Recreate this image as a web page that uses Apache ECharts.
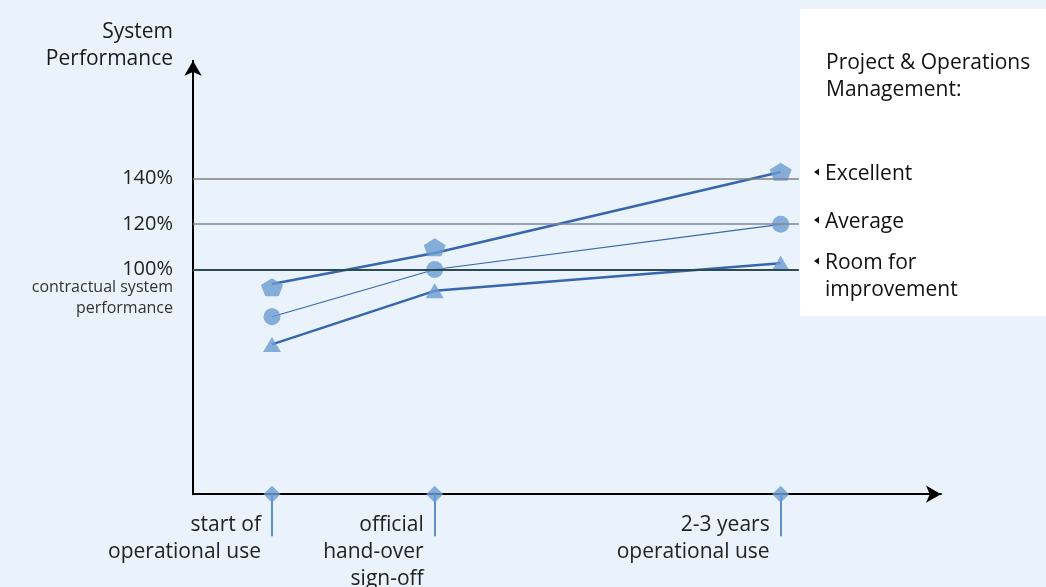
<!DOCTYPE html>
<html>
<head>
<meta charset="utf-8">
<title>System Performance</title>
<script src="https://cdn.jsdelivr.net/npm/echarts@6/dist/echarts.min.js"></script>
<style>
  html, body { margin: 0; padding: 0; background: #EAF2FB; }
  #chart { width: 1046px; height: 587px; }
</style>
</head>
<body>
<div id="chart"></div>
<script>
// stages on the time axis
const stages = ['start of\noperational use', 'official\nhand-over\nsign-off', '2-3 years\noperational use']
const stagePos = [1, 3.06, 7.44]

// reference levels (%)
const refLevels = [100, 120, 140]
const refColors = ['#2C4A50', '#7B8899', '#808080']
const refWidths = [2, 1.5, 1.5]
const refEnd = 7.67
// note under the 100% level
const noteLevel = 87.3
const noteText = 'contractual system\nperformance'

// series values (%)
const excellentMarks = [92.2, 109.8, 143.1]
const excellentLine = [93.6, 107.3, 143]
const averageVals = [79.2, 100, 119.9]
const roomVals = [67, 90.6, 102.8]

const FONT = 'Open Sans'
const markColor = '#6B9BD1'
const lineColor = '#3566AE'
const pentagon = 'path://M50,0 L97.6,34.5 L79.4,90.5 L20.6,90.5 L2.4,34.5 Z'

const chart = echarts.init(document.getElementById('chart'))

const pairs = (vals) => stagePos.map((x, i) => [x, vals[i]])

const option = {
  backgroundColor: '#EAF2FB',
  animation: false,
  textStyle: { fontFamily: FONT },
  grid: { left: 193, right: 105, top: 60.7, bottom: 92.8, outerBoundsMode: 'none', containLabel: false },
  xAxis: {
    type: 'value',
    min: 0,
    max: 9.47,
    axisLine: {
      lineStyle: { color: '#000', width: 2 },
      symbol: ['none', 'arrow'],
      symbolSize: [13, 15]
    },
    axisTick: {
      show: true,
      customValues: stagePos,
      length: 42,
      lineStyle: { color: '#5E8FCC', width: 2 }
    },
    axisLabel: {
      customValues: stagePos,
      formatter: (v) => stages[stagePos.indexOf(v)] || '',
      align: 'right',
      verticalAlign: 'top',
      padding: [0, 11, 0, 0],
      margin: 17,
      lineHeight: 27,
      fontSize: 21,
      color: '#222',
      fontFamily: FONT
    },
    splitLine: { show: false }
  },
  yAxis: [
    {
      type: 'value',
      min: 1,
      max: 192,
      axisLine: {
        show: true,
        lineStyle: { color: '#000', width: 2 },
        symbol: ['none', 'arrow'],
        symbolSize: [13, 15]
      },
      axisTick: { show: false },
      splitLine: { show: false },
      axisLabel: {
        customValues: refLevels,
        hideOverlap: false,
        showMinLabel: true,
        showMaxLabel: true,
        margin: 20,
        formatter: (v) => v + '%',
        fontSize: 20,
        color: '#222',
        fontFamily: FONT
      }
    },
    {
      // second axis on the same scale, only for the note text
      type: 'value',
      position: 'left',
      min: 1,
      max: 192,
      axisLine: { show: false },
      axisTick: { show: false },
      splitLine: { show: false },
      axisLabel: {
        customValues: [noteLevel],
        margin: 20,
        formatter: () => noteText,
        fontSize: 16,
        lineHeight: 21,
        color: '#333',
        fontFamily: FONT
      }
    }
  ],
  series: [
    {
      // horizontal reference lines
      name: 'refs',
      type: 'line',
      data: [],
      z: 1,
      markLine: {
        silent: true,
        symbol: 'none',
        label: { show: false },
        data: refLevels.map((lv, i) => [
          { coord: [0, lv], lineStyle: { color: refColors[i], width: refWidths[i], type: 'solid' } },
          { coord: [refEnd, lv] }
        ])
      }
    },
    {
      name: 'Excellent line',
      type: 'line',
      data: pairs(excellentLine),
      showSymbol: false,
      lineStyle: { color: lineColor, width: 2.5 },
      z: 3
    },
    {
      name: 'Average',
      type: 'line',
      data: pairs(averageVals),
      showSymbol: false,
      lineStyle: { color: lineColor, width: 1.2 },
      z: 3
    },
    {
      name: 'Room for improvement',
      type: 'line',
      data: pairs(roomVals),
      showSymbol: false,
      lineStyle: { color: lineColor, width: 2.5 },
      z: 3
    },
    {
      name: 'Excellent marks',
      type: 'scatter',
      data: pairs(excellentMarks),
      symbol: pentagon,
      symbolSize: [22, 18],
      itemStyle: { color: markColor },
      z: 4
    },
    {
      name: 'Average marks',
      type: 'scatter',
      data: pairs(averageVals),
      symbol: 'circle',
      symbolSize: 17,
      itemStyle: { color: markColor },
      z: 4
    },
    {
      name: 'Room marks',
      type: 'scatter',
      data: pairs(roomVals),
      symbol: 'triangle',
      symbolSize: [18, 15],
      itemStyle: { color: markColor },
      z: 4
    },
    {
      // diamonds on the time axis
      name: 'stages',
      type: 'scatter',
      data: stagePos.map((x) => [x, 1]),
      symbol: 'diamond',
      symbolSize: [17, 17],
      clip: false,
      itemStyle: { color: markColor },
      z: 5
    }
  ],
  graphic: [
    {
      type: 'text',
      x: 173,
      y: 19,
      style: {
        text: 'System\nPerformance',
        align: 'right',
        fill: '#1a1a1a',
        font: '500 21px ' + FONT,
        lineHeight: 27
      }
    },
    {
      type: 'rect',
      shape: { x: 800, y: 9, width: 246, height: 307 },
      style: { fill: '#fff' },
      z: 0
    },
    {
      type: 'text',
      x: 826,
      y: 50,
      style: { text: 'Project & Operations\nManagement:', fill: '#111', font: '500 21px ' + FONT, lineHeight: 27 }
    },
    {
      type: 'text',
      x: 825,
      y: 160.5,
      style: { text: 'Excellent', fill: '#111', font: '21px ' + FONT, lineHeight: 27 }
    },
    {
      type: 'text',
      x: 825,
      y: 208.5,
      style: { text: 'Average', fill: '#111', font: '21px ' + FONT, lineHeight: 27 }
    },
    {
      type: 'text',
      x: 825,
      y: 249.5,
      style: { text: 'Room for\nimprovement', fill: '#111', font: '21px ' + FONT, lineHeight: 27 }
    },
    { type: 'polygon', shape: { points: [[814, 172], [819, 168.5], [819, 175.5]] }, style: { fill: '#111' } },
    { type: 'polygon', shape: { points: [[814, 220], [819, 216.5], [819, 223.5]] }, style: { fill: '#111' } },
    { type: 'polygon', shape: { points: [[814, 261], [819, 257.5], [819, 264.5]] }, style: { fill: '#111' } }
  ]
}

chart.setOption(option)
</script>
</body>
</html>
